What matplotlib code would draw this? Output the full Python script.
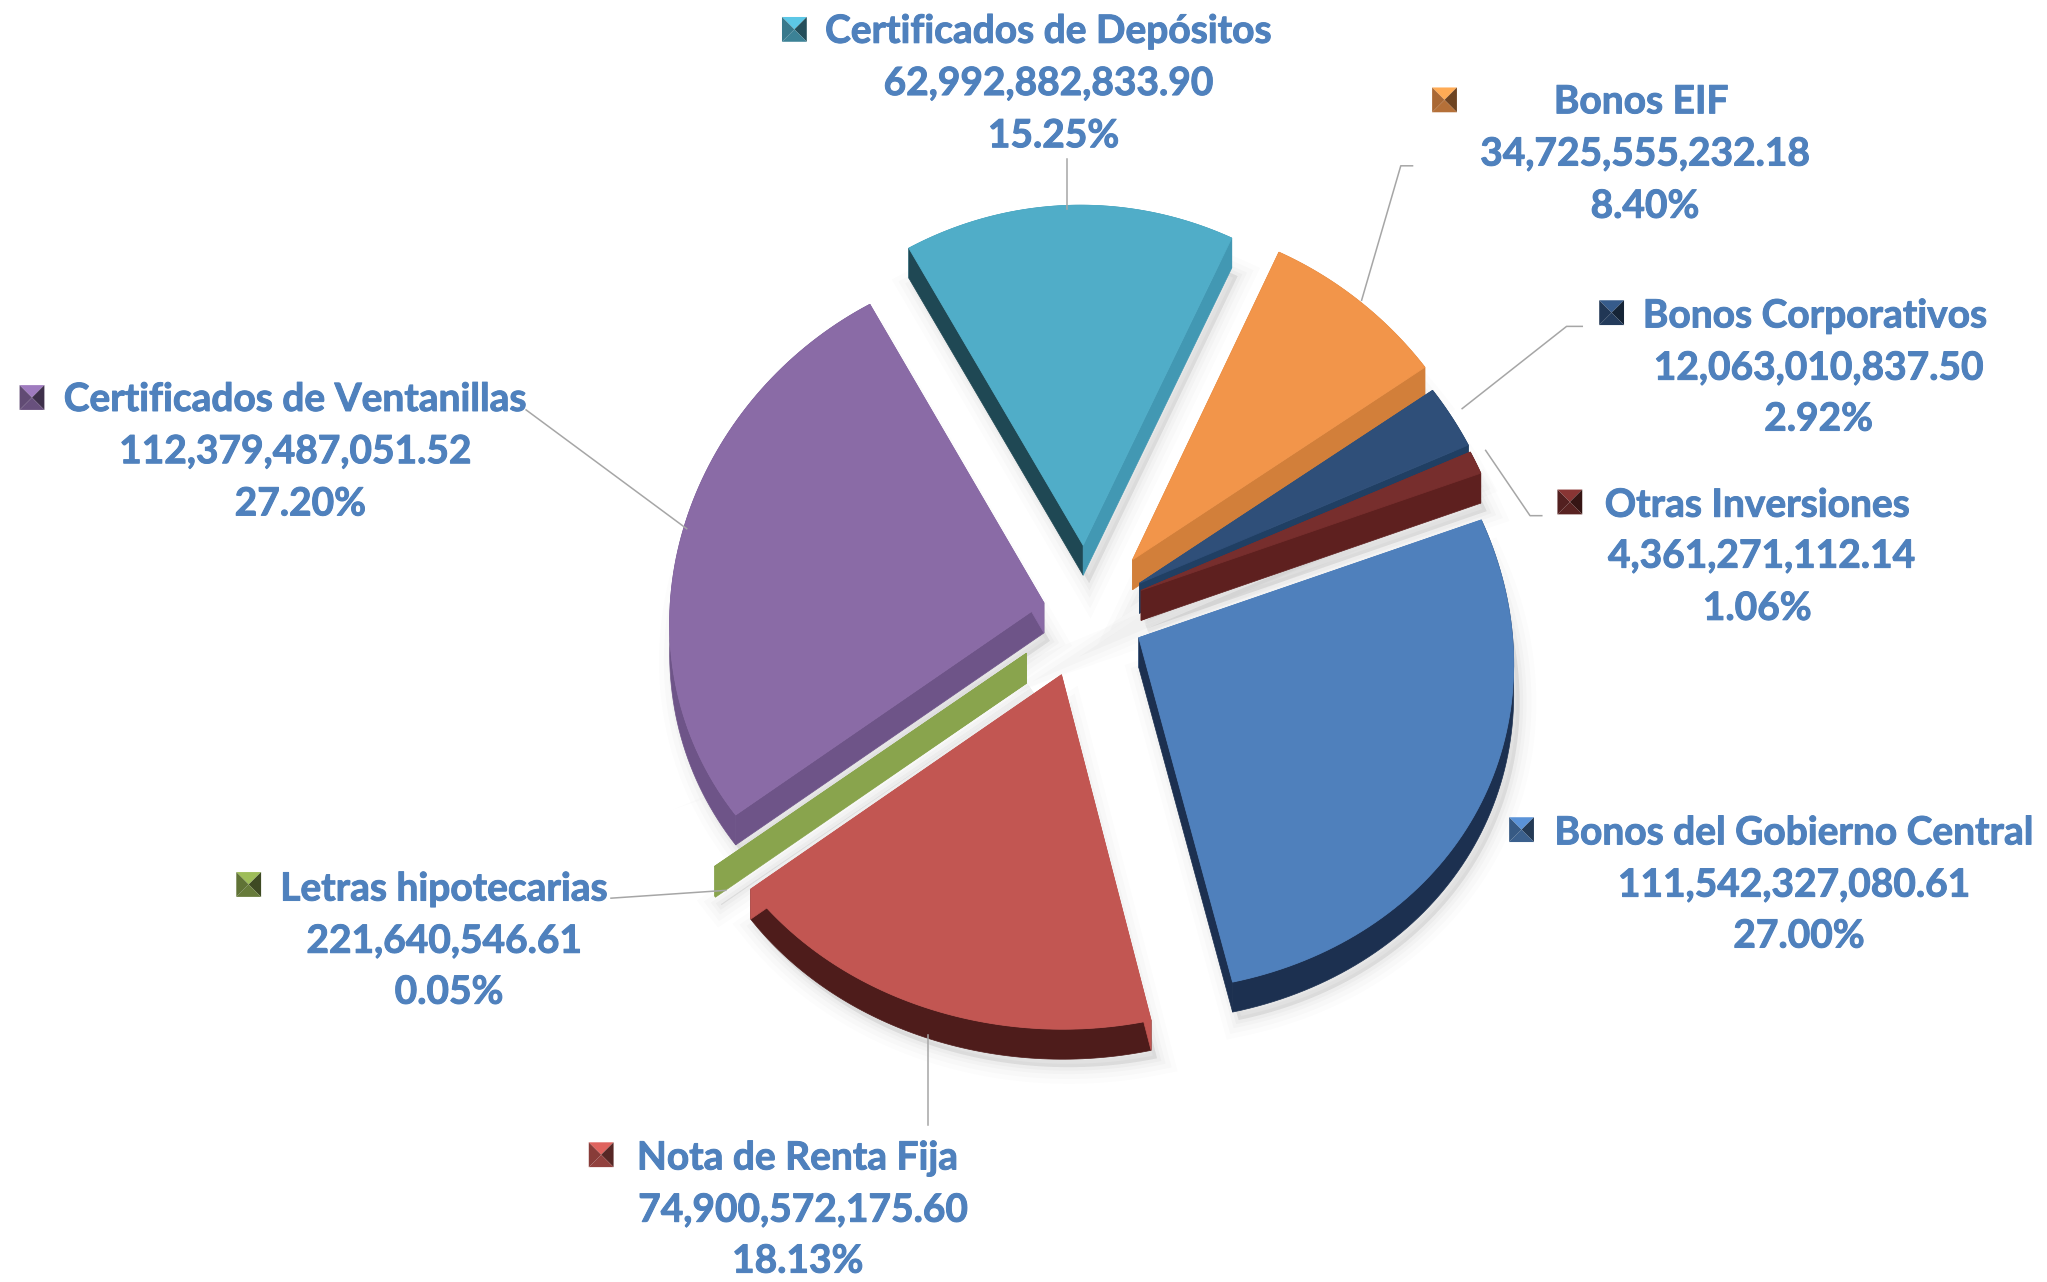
import matplotlib
matplotlib.use('Agg')
import matplotlib.pyplot as plt
import matplotlib.patheffects as pe
from matplotlib.patches import Polygon
import numpy as np

plt.rcParams['font.family'] = ['Lato', 'DejaVu Sans']

#data
names = ['Certificados de Depósitos', 'Bonos EIF', 'Bonos Corporativos', 'Otras Inversiones',
         'Bonos del Gobierno Central', 'Nota de Renta Fija', 'Letras hipotecarias', 'Certificados de Ventanillas']
values = [62992882833.90, 34725555232.18, 12063010837.50, 4361271112.14,
          111542327080.61, 74900572175.60, 221640546.61, 112379487051.52]
amounts = ['62,992,882,833.90', '34,725,555,232.18', '12,063,010,837.50', '4,361,271,112.14',
           '111,542,327,080.61', '74,900,572,175.60', '221,640,546.61', '112,379,487,051.52']
pcts = ['15.25%', '8.40%', '2.92%', '1.06%', '27.00%', '18.13%', '0.05%', '27.20%']

#slice styling
top_cols = ['#50ADC8', '#F2954A', '#2F4F79', '#772E2D', '#4F80BC', '#C25652', '#89A44D', '#8A6BA6']
wall_start = ['#1F4854', '#D27F3A', '#2F4F79', '#772E2D', '#4F80BC', '#C25652', '#89A44D', '#6E5488']
wall_end = ['#4298B3', '#D27F3A', '#203F63', '#5E201F', '#1C3050', '#C25652', '#89A44D', '#8A6BA6']
wall_arc = ['#4298B3', '#D27F3A', '#203F63', '#5E201F', '#1C3050', '#4E1C1B', '#89A44D', '#6E5488']
explode = [0.19, 0.195, 0.165, 0.16, 0.16, 0.195, 0.2, 0.115]
draw_order = [0, 1, 2, 3, 4, 7, 6, 5]

#label layout in 1568x982 picture coordinates
text_x = [(803, 803, 807), (1257, 1260, 1260), (1390, 1393, 1393), (1346, 1349, 1346),
          (1374, 1374, 1378), (611, 615, 611), (340, 340, 344), (226, 226, 230)]
text_y = [(24, 64, 104), (78, 118, 158), (242, 282, 321), (387, 426, 466),
          (638, 678, 717), (887, 927, 966), (681, 721, 760), (306, 346, 386)]
key_x = [599, 1097, 1225, 1193, 1156, 451, 181, 15]
key_y = [13, 67, 230, 375, 626, 875, 668, 295]
leaders = [[(817, 122), (817, 160)],
           [(1082, 127), (1073, 127), (1043, 230)],
           [(1212, 250), (1200, 250), (1120, 313)],
           [(1181, 395), (1172, 395), (1138, 345)],
           [(403, 314), (526, 405)],
           [(468, 688), (556, 682)],
           [(711, 862), (711, 793)]]

W, H = 2047, 1282
R = 373.0
cx, cy = 1086.0, 611.0
squash = 0.93
persp_x = 0.06
persp_y = 0.015
shear_y = 0.035
shear_x = 0.03
depth = 30.0 / R


def project(x, y):
    return (x + shear_x * y) / (1.0 + persp_x * y), (y * squash - shear_y * x) / (1.0 + persp_y * y)


fig = plt.figure(figsize=(W / 100, H / 100), dpi=100, facecolor='white')
ax = fig.add_axes([0, 0, 1, 1])
wedges, _ = ax.pie(values, explode=explode, startangle=121.5, counterclock=False, radius=1, frame=True)
ax.set_aspect('auto')
ax.set_xlim(-cx / R, (W - cx) / R)
ax.set_ylim(-(H - cy) / R, cy / R)
ax.axis('off')

#the pie gives the angles and centres, they get tilted and extruded here
for i in draw_order:
    w = wedges[i]
    w.set_visible(False)
    t = np.radians(np.linspace(w.theta1, w.theta2, 80))
    xs = np.r_[w.center[0], w.center[0] + w.r * np.cos(t)]
    ys = np.r_[w.center[1], w.center[1] + w.r * np.sin(t)]
    px, py = project(xs, ys)
    top = np.column_stack([px, py])
    low = np.column_stack([px, py - depth])
    z = 3 + draw_order.index(i)

    #soft shadow
    for lw, a in [(24, 0.01), (17, 0.015), (10, 0.02), (5, 0.025)]:
        ax.add_patch(Polygon(low + [6 / R, -8 / R], closed=True, facecolor=(0, 0, 0, a),
                             edgecolor=(0, 0, 0, a), lw=lw, zorder=2))

    #walls
    arc_top = top[1:]
    arc_low = low[1:][::-1]
    ax.add_patch(Polygon(np.vstack([arc_top, arc_low]), closed=True, fc=wall_arc[i], ec=wall_arc[i], lw=0.5, zorder=z))
    ax.add_patch(Polygon([top[0], top[-1], low[-1], low[0]], closed=True, fc=wall_start[i], ec=wall_start[i], lw=0.5, zorder=z))
    ax.add_patch(Polygon([top[0], top[1], low[1], low[0]], closed=True, fc=wall_end[i], ec=wall_end[i], lw=0.5, zorder=z))
    ax.add_patch(Polygon(top, closed=True, fc=top_cols[i], ec=top_cols[i], lw=0.6, zorder=z))

#overlay in picture coordinates for labels
over = fig.add_axes([0, 0, 1, 1], facecolor='none')
over.set_xlim(0, 1568)
over.set_ylim(982, 0)
over.axis('off')

for pts in leaders:
    over.plot([p[0] for p in pts], [p[1] for p in pts], color='#A6A6A6', lw=1.1, zorder=1)

for i in range(len(names)):
    for line, x, y in zip([names[i], amounts[i], pcts[i]], text_x[i], text_y[i]):
        over.text(x, y, line, color='#4F81BD', fontsize=28, fontweight='bold', ha='center', va='center',
                  path_effects=[pe.withStroke(linewidth=0.7, foreground='#4F81BD')])
    #bevelled legend key
    x0, y0, s = key_x[i], key_y[i], 19
    c = np.array(matplotlib.colors.to_rgb(top_cols[i]))
    corners = [(x0, y0), (x0 + s, y0), (x0 + s, y0 + s), (x0, y0 + s)]
    mid = (x0 + s / 2, y0 + s / 2)
    shades = [1.15, 0.45, 0.75, 0.7]
    for k in range(4):
        over.add_patch(Polygon([corners[k], corners[(k + 1) % 4], mid], closed=True,
                               fc=np.clip(c * shades[k], 0, 1), ec='none'))

fig.savefig('out.png', dpi=100)
